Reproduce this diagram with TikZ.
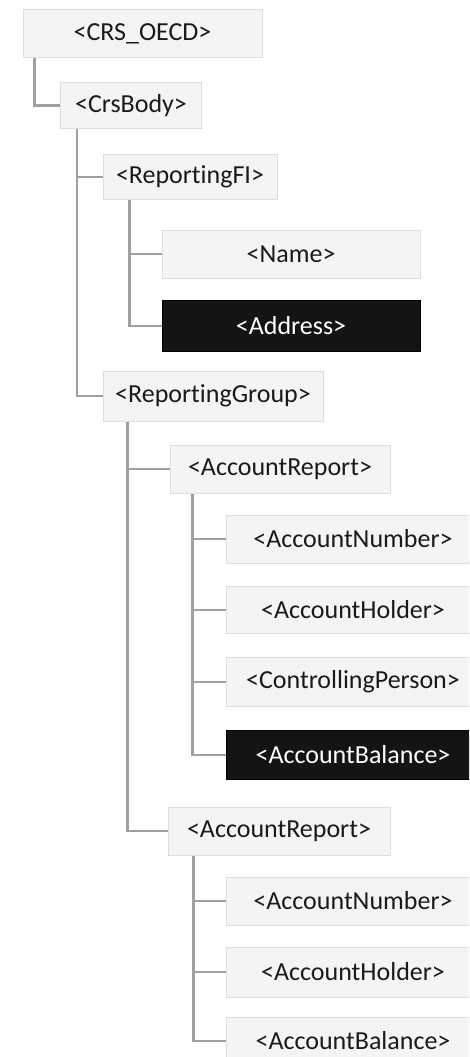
\documentclass[tikz,border=0pt]{standalone}
\usepackage{fontspec}
\setmainfont{Carlito}[Ligatures=NoCommon]
\definecolor{boxfill}{HTML}{F4F4F4}
\definecolor{boxline}{HTML}{DDDDDD}
\definecolor{connline}{HTML}{A0A0A0}
\definecolor{textcol}{HTML}{1A1A1A}
\begin{document}
\begin{tikzpicture}[x=1pt,y=-1pt,
  tag/.style={draw=boxline, fill=boxfill, line width=1pt, inner sep=0pt,
    text=textcol, font=\fontsize{26}{30}\selectfont},
  hilite/.style={tag, draw=black, fill=black!92, text=white},
  leaf/.style={minimum width=254pt},
  conn/.style={draw=connline, line width=2.2pt}]
\useasboundingbox (0,0) rectangle (469,1057);
\clip (0,0) rectangle (469,1057);
\fill[white] (0,0) rectangle (469,1057);

% tree nodes
\node[tag, minimum width=239pt, minimum height=48pt] (oecd) at (142.5,34) {<CRS\_OECD>};
\node[tag, minimum width=141pt, minimum height=46pt] (body) at (131,105.5) {<CrsBody>};
\node[tag, minimum width=174pt, minimum height=45pt] (rfi) at (190,177) {<ReportingFI>};
\node[tag, minimum width=258pt, minimum height=48pt] (name) at (291,254) {<Name>};
\node[hilite, minimum width=258pt, minimum height=51pt] (addr) at (291,326) {<Address>};
\node[tag, minimum width=220pt, minimum height=50pt] (rg) at (213,396) {<ReportingGroup>};
\node[tag, minimum width=220pt, minimum height=48pt] (ar1) at (280,469) {<AccountReport>};
\node[tag, leaf, minimum height=48pt] (an1) at (353,539) {<AccountNumber>};
\node[tag, leaf, minimum height=47pt] (ah1) at (353,610) {<AccountHolder>};
\node[tag, leaf, minimum height=49pt] (cp) at (353,682) {<ControllingPerson>};
\node[hilite, leaf, minimum height=49pt] (ab1) at (353,755) {<AccountBalance>};
\node[tag, minimum width=222pt, minimum height=48pt] (ar2) at (279,831) {<AccountReport>};
\node[tag, leaf, minimum height=48pt] (an2) at (353,901) {<AccountNumber>};
\node[tag, leaf, minimum height=50pt] (ah2) at (353,972) {<AccountHolder>};
\node[tag, leaf, minimum height=48pt] (ab2) at (353,1041) {<AccountBalance>};

% connectors
\draw[conn] ([xshift=12pt]oecd.south west) |- (body.west);
\draw[conn] ([xshift=17pt]body.south west) |- (rfi.west);
\draw[conn] ([xshift=17pt]body.south west) |- (rg.west);
\draw[conn] ([xshift=27pt]rfi.south west) |- (name.west);
\draw[conn] ([xshift=27pt]rfi.south west) |- (addr.west);
\draw[conn] ([xshift=25pt]rg.south west) |- (ar1.west);
\draw[conn] ([xshift=25pt]rg.south west) |- (ar2.west);
\foreach \c in {an1,ah1,cp,ab1}
  \draw[conn] ([xshift=23pt]ar1.south west) |- (\c.west);
\foreach \c in {an2,ah2,ab2}
  \draw[conn] ([xshift=26pt]ar2.south west) |- (\c.west);
\end{tikzpicture}
\end{document}
